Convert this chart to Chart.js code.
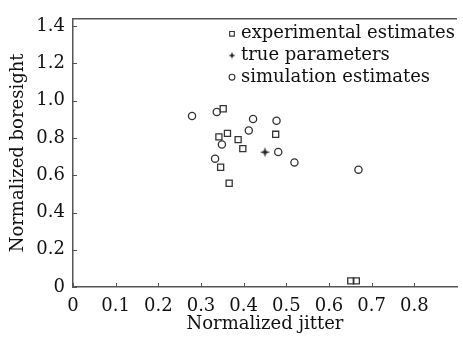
<!DOCTYPE html>
<html>
<head>
<meta charset="utf-8">
<script src="https://cdn.jsdelivr.net/npm/chart.js@4/dist/chart.umd.min.js"></script>
<style>
  html, body { margin: 0; padding: 0; background: #fff; }
  #wrap { width: 463px; height: 337px; }
</style>
</head>
<body>
<div id="wrap"><canvas id="chart"></canvas></div>
<script>
// values
const expX = [0.352, 0.342, 0.362, 0.387, 0.398, 0.475, 0.346, 0.366, 0.651, 0.664];
const expY = [0.957, 0.806, 0.825, 0.791, 0.743, 0.820, 0.643, 0.557, 0.033, 0.033];
const trueX = [0.450];
const trueY = [0.724];
const simX = [0.279, 0.337, 0.422, 0.412, 0.349, 0.333, 0.477, 0.481, 0.519, 0.669];
const simY = [0.918, 0.940, 0.902, 0.840, 0.765, 0.689, 0.893, 0.725, 0.669, 0.630];
const seriesNames = ['experimental estimates', 'true parameters', 'simulation estimates'];
const xTicks = [0, 0.1, 0.2, 0.3, 0.4, 0.5, 0.6, 0.7, 0.8];
const yTicks = [0, 0.2, 0.4, 0.6, 0.8, 1.0, 1.2, 1.4];

const ink = '#333';
const font = 'DejaVu Serif';

// small 4-point star for the true parameter marker
function makeStar(size) {
    const s = document.createElement('canvas');
    s.width = size; s.height = size;
    const c = s.getContext('2d'), m = size / 2, k = size * 0.11;
    c.fillStyle = '#222';
    c.beginPath();
    c.moveTo(m, 0.5); c.lineTo(m + k, m - k); c.lineTo(size - 0.5, m); c.lineTo(m + k, m + k);
    c.lineTo(m, size - 0.5); c.lineTo(m - k, m + k); c.lineTo(0.5, m); c.lineTo(m - k, m - k);
    c.closePath();
    c.fill();
    return s;
}
const star = makeStar(11);
const smallStar = makeStar(8);

const toPts = (xs, ys) => xs.map((x, i) => ({ x: x, y: ys[i] }));
const fmt = v => v === 0 ? '0' : v.toFixed(1);

// inward tick marks, top border and in-plot legend
const decor = {
    id: 'decor',
    afterDraw(chart) {
        const c = chart.ctx, a = chart.chartArea;
        const sx = chart.scales.x, sy = chart.scales.y;
        c.save();
        c.strokeStyle = '#555';
        c.lineWidth = 1;
        sx.ticks.forEach(t => {
            const p = Math.round(sx.getPixelForValue(t.value)) + 0.5;
            c.beginPath(); c.moveTo(p, a.bottom); c.lineTo(p, a.bottom - 4); c.stroke();
        });
        sy.ticks.forEach(t => {
            const p = Math.round(sy.getPixelForValue(t.value)) + 0.5;
            c.beginPath(); c.moveTo(a.left, p); c.lineTo(a.left + 4, p); c.stroke();
        });
        c.lineWidth = 1.5;
        c.beginPath(); c.moveTo(a.left, a.top); c.lineTo(a.right, a.top); c.stroke();

        // legend
        const lx = a.left + 159, ly = a.top + 15, gap = 21.7;
        const legSize = [3.3, 4, 2.9];
        c.font = '18px "' + font + '"';
        c.textBaseline = 'middle';
        chart.data.datasets.forEach((ds, i) => {
            const y = ly + i * gap;
            c.fillStyle = ds.backgroundColor;
            c.strokeStyle = ds.borderColor;
            c.lineWidth = 1.1;
            Chart.helpers.drawPoint(c, {
                pointStyle: i === 1 ? smallStar : ds.pointStyle, radius: legSize[i],
                borderWidth: 1.1, rotation: 0
            }, lx, y);
            c.fillStyle = '#111';
            c.fillText(ds.label, lx + 9, y);
        });
        c.restore();
    }
};

new Chart(document.getElementById('chart'), {
    type: 'scatter',
    data: {
        datasets: [{
            label: seriesNames[0],
            data: toPts(expX, expY),
            pointStyle: 'rect',
            pointRadius: 4.3,
            backgroundColor: 'rgba(0,0,0,0)',
            borderColor: ink,
            borderWidth: 1.3
        }, {
            label: seriesNames[1],
            data: toPts(trueX, trueY),
            pointStyle: star,
            pointRadius: 5,
            backgroundColor: '#222',
            borderColor: '#222',
            borderWidth: 1
        }, {
            label: seriesNames[2],
            data: toPts(simX, simY),
            pointStyle: 'circle',
            pointRadius: 3.6,
            backgroundColor: 'rgba(0,0,0,0)',
            borderColor: ink,
            borderWidth: 1.3
        }]
    },
    options: {
        responsive: true,
        maintainAspectRatio: false,
        animation: false,
        layout: { padding: { top: 7, right: 0, left: 8, bottom: 0 } },
        plugins: { legend: { display: false }, tooltip: { enabled: false } },
        scales: {
            x: {
                type: 'linear',
                min: 0, max: 0.9,
                grid: { display: false, drawTicks: false },
                border: { display: true, color: '#555', width: 1.5 },
                afterBuildTicks: s => { s.ticks = xTicks.map(v => ({ value: v })); },
                ticks: {
                    padding: 9, color: '#111',
                    font: { family: font, size: 18 },
                    callback: fmt
                },
                title: {
                    display: true, text: 'Normalized jitter', color: '#111',
                    font: { family: font, size: 18 }, padding: { top: 0, bottom: 2 }
                },
                afterFit: s => { s.height = 50; }
            },
            y: {
                min: 0, max: 1.44,
                grid: { display: false, drawTicks: false },
                border: { display: true, color: '#555', width: 1.5 },
                afterBuildTicks: s => { s.ticks = yTicks.map(v => ({ value: v })); },
                ticks: {
                    padding: 8, color: '#111',
                    font: { family: font, size: 18 },
                    callback: fmt
                },
                title: {
                    display: true, text: 'Normalized boresight', color: '#111',
                    font: { family: font, size: 18 }, padding: { top: 0, bottom: 4 }
                },
                afterFit: s => { s.width = 65; }
            }
        }
    },
    plugins: [decor]
});
</script>
</body>
</html>
